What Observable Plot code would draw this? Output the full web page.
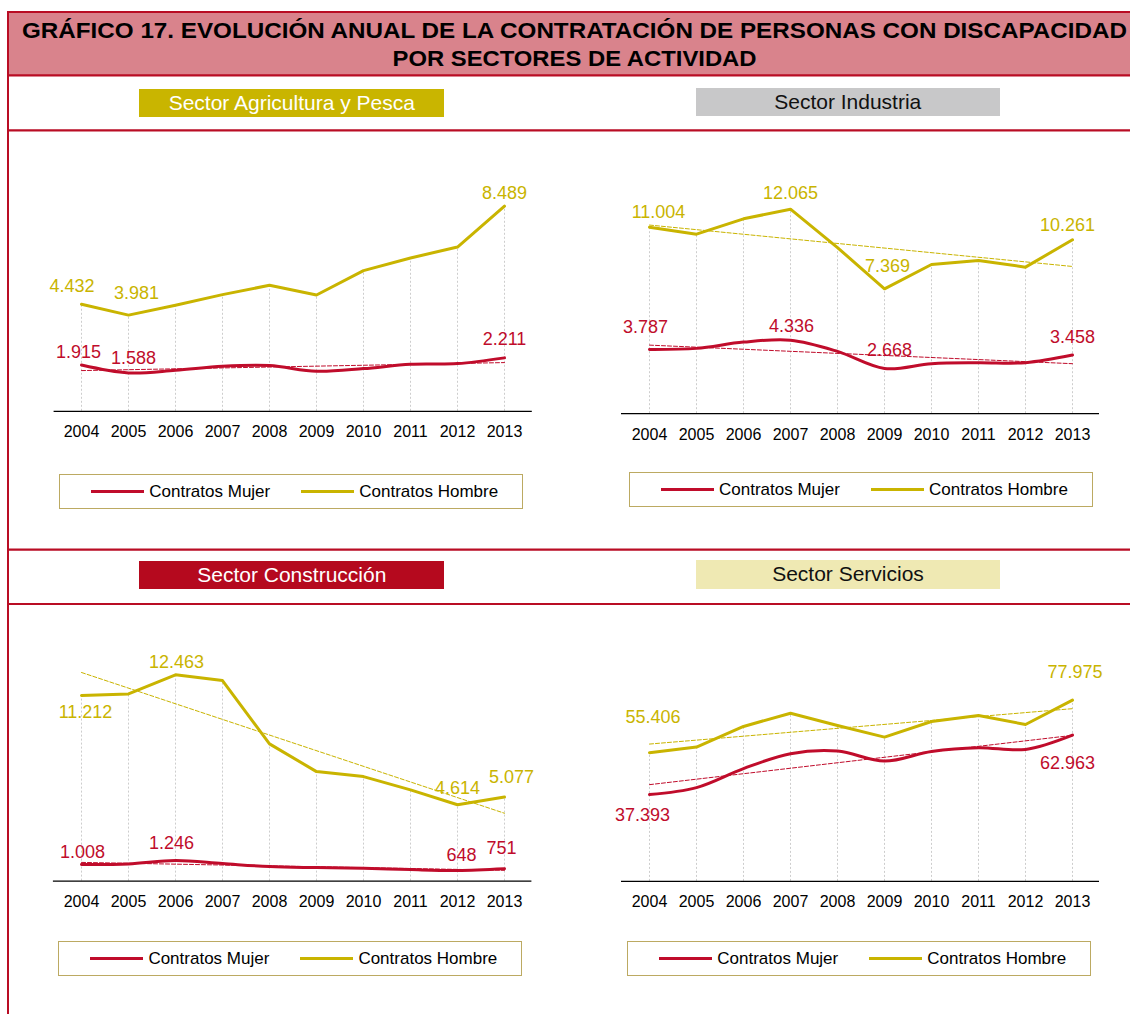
<!DOCTYPE html>
<html><head><meta charset="utf-8">
<script src="https://cdn.jsdelivr.net/npm/d3@7"></script>
<script src="https://cdn.jsdelivr.net/npm/@observablehq/plot@0.6"></script>
<style>
body{margin:0;background:#fff;font-family:"Liberation Sans",Arial,sans-serif;}
#page{position:relative;width:1130px;height:1014px;overflow:hidden;background:#fff;}
.abs{position:absolute;box-sizing:border-box;}
</style></head><body><div id="page"></div>
<script>
// ---------------- DATA ----------------
const years = [2004,2005,2006,2007,2008,2009,2010,2011,2012,2013];
const agriMujer  = [1915,1588,1697,1862,1891,1656,1767,1945,1974,2211];
const agriHombre = [4432,3981,4387,4830,5215,4814,5823,6346,6800,8489];
const indMujer   = [3787,3854,4225,4336,3677,2668,2952,3011,3011,3458];
const indHombre  = [11004,10590,11497,12065,9800,7369,8803,9040,8646,10261];
const conMujer   = [1008,1040,1246,1060,876,816,775,695,648,751];
const conHombre  = [11212,11311,12463,12115,8290,6616,6314,5511,4614,5077];
const serMujer   = [37393,40369,48520,54955,56070,51780,55942,57529,56800,62963];
const serHombre  = [55406,57786,66667,72372,67096,62076,68812,71386,67525,77975];
const sectorTitles = ["Sector Agricultura y Pesca","Sector Industria","Sector Construcción","Sector Servicios"];
const seriesNames = ["Contratos Mujer","Contratos Hombre"];
const titleLines = ["GRÁFICO 17. EVOLUCIÓN ANUAL DE LA CONTRATACIÓN DE PERSONAS CON DISCAPACIDAD","POR SECTORES DE ACTIVIDAD"];

// ---------------- STYLE / LAYOUT ----------------
const RED = "#c00c2b", YELLOW = "#c9b400", BORDER = "#b90d24";
const fmt = d3.formatLocale({decimal:",", thousands:".", grouping:[3], currency:["","€"]}).format(",d");
const page = document.getElementById("page");
const NS = "http://www.w3.org/2000/svg";

// frame svg (borders, title band)
const frame = document.createElementNS(NS,"svg");
frame.setAttribute("width",1130); frame.setAttribute("height",1014);
frame.setAttribute("class","abs"); frame.style.left="0px"; frame.style.top="0px";
function el(tag, attrs, parent){ const e=document.createElementNS(NS,tag); for(const k in attrs) e.setAttribute(k,attrs[k]); (parent||frame).appendChild(e); return e;}
el("rect",{x:8,y:12,width:1130,height:63.3,fill:"#d9838c"});
[12,75.3,130.3,549.6,604].forEach(y=>el("line",{x1:8,x2:1130,y1:y,y2:y,stroke:BORDER,"stroke-width":2.2}));
el("line",{x1:8,x2:8,y1:11,y2:1014,stroke:BORDER,"stroke-width":2});
const tl = [{y:38,len:1105},{y:65.6,len:364}];
titleLines.forEach((t,i)=>{
  const tx = el("text",{x:574.5,y:tl[i].y,"text-anchor":"middle","font-weight":"bold","font-size":21.5,
    "font-family":"Liberation Sans, Arial, sans-serif",fill:"#000",textLength:tl[i].len,lengthAdjust:"spacingAndGlyphs"});
  tx.textContent = t;
});
page.appendChild(frame);

// sector header boxes
const headers = [
  {x:139.3,y:89,w:305,h:28,bg:"#c9b500",fg:"#fff"},
  {x:695.5,y:87.7,w:304.5,h:28.5,bg:"#c8c8c9",fg:"#111"},
  {x:139.3,y:560.7,w:305,h:28.5,bg:"#b5091e",fg:"#fff"},
  {x:696,y:560,w:304,h:28.7,bg:"#efe9b3",fg:"#111"}
];
headers.forEach((h,i)=>{
  const d=document.createElement("div"); d.className="abs";
  Object.assign(d.style,{left:h.x+"px",top:h.y+"px",width:h.w+"px",height:h.h+"px",background:h.bg,color:h.fg,
    fontSize:"21px",lineHeight:h.h+"px",textAlign:"center",whiteSpace:"nowrap"});
  d.textContent = sectorTitles[i]; page.appendChild(d);
});

// legends
const legends = [{x:59.3,y:474.3},{x:629,y:472.3},{x:58.4,y:940.7},{x:627.3,y:940.7}];
const legItems = [{c:RED,line:32,text:90},{c:YELLOW,line:242,text:300}];
legends.forEach(l=>{
  const b=document.createElement("div"); b.className="abs";
  Object.assign(b.style,{left:l.x+"px",top:l.y+"px",width:"463.5px",height:"35px",border:"1.3px solid #bcaa62",background:"#fff"});
  legItems.forEach((it,i)=>{
    const s=document.createElement("div"); s.className="abs";
    Object.assign(s.style,{left:(it.line-1)+"px",top:"15px",width:"52.5px",height:"3px",background:it.c});
    b.appendChild(s);
    const t=document.createElement("div"); t.className="abs";
    Object.assign(t.style,{left:(it.text-1)+"px",top:"0px",height:"33px",lineHeight:"33px",fontSize:"17px",color:"#000",whiteSpace:"nowrap"});
    t.textContent = seriesNames[i]; b.appendChild(t);
  });
  page.appendChild(b);
});

// panels
const panels = [
  {mujer:agriMujer,hombre:agriHombre,trendH:false,left:0,top:140,mL:53.6,mR:33.2,axisY:410.8,ppu:0.02416,
   labels:[["H",0,-9.5,-17.7],["H",1,8,-22],["H",9,0,-13.3],["M",0,-3,-12.3],["M",1,5,-14.3],["M",9,0,-19]]},
  {mujer:indMujer,hombre:indHombre,trendH:true,left:565,top:140,mL:56,mR:31,axisY:413.2,ppu:0.01695,
   labels:[["H",0,9,-15],["H",3,0,-16],["H",5,3,-23],["H",9,-5,-15],["M",0,-4,-22],["M",3,1,-14],["M",5,5,-18.5],["M",9,0,-18]]},
  {mujer:conMujer,hombre:conHombre,trendH:true,left:0,top:610,mL:52.9,mR:33.6,axisY:880.6,ppu:0.01655,
   labels:[["H",0,4,17],["H",2,1,-13],["H",8,0,-17],["H",9,7,-20],["M",0,1,-12],["M",2,-4,-17],["M",8,4,-15],["M",9,-3,-20]]},
  {mujer:serMujer,hombre:serHombre,trendH:true,left:565,top:610,mL:56,mR:31,axisY:880.9,ppu:0.002324,
   labels:[["H",0,3.5,-35],["H",9,2.5,-28],["M",0,-7,21],["M",9,-5,28]]}
];
const W=565, H=310, MT=20;
panels.forEach(p=>{
  const rows = years.map((year,i)=>({year, mujer:p.mujer[i], hombre:p.hombre[i]}));
  const mB = p.top + H - p.axisY;
  const yMax = (p.axisY - p.top - MT) / p.ppu;
  const marks = [
    Plot.ruleX(rows,{x:"year",y1:0,y2:"hombre",stroke:"#cdcdcd",strokeWidth:1,strokeDasharray:"2,2"}),
    Plot.ruleY([0],{stroke:"#000",strokeWidth:1.3}),
    Plot.lineY(rows,{x:"year",y:"hombre",stroke:YELLOW,strokeWidth:3}),
    Plot.lineY(rows,{x:"year",y:"mujer",stroke:RED,strokeWidth:3,curve:"catmull-rom"}),
    Plot.linearRegressionY(rows,{x:"year",y:"mujer",stroke:RED,ci:0,strokeWidth:1,strokeDasharray:"4,2"})
  ];
  if (p.trendH) marks.push(Plot.linearRegressionY(rows,{x:"year",y:"hombre",stroke:YELLOW,ci:0,strokeWidth:1,strokeDasharray:"4,2"}));
  p.labels.forEach(([s,i,dx,dy])=>{
    const v = s==="H" ? p.hombre[i] : p.mujer[i];
    marks.push(Plot.text([{year:years[i],v}],{x:"year",y:"v",text:d=>fmt(d.v),dx,dy,fill:s==="H"?YELLOW:RED,fontSize:18}));
  });
  marks.push(Plot.axisX({tickSize:0,tickPadding:14.5,tickFormat:d=>String(d),fill:"#000",fontSize:16}));
  const chart = Plot.plot({
    width:W, height:H, marginLeft:p.mL, marginRight:p.mR, marginTop:MT, marginBottom:mB,
    x:{type:"point",domain:years,padding:0.5,align:0.5,label:null},
    y:{domain:[0,yMax],axis:null},
    style:{fontFamily:"Liberation Sans, Arial, sans-serif",fontSize:"16px",background:"transparent",overflow:"visible"},
    marks
  });
  chart.classList.add("abs");
  chart.style.left=p.left+"px"; chart.style.top=p.top+"px";
  page.appendChild(chart);
});
</script></body></html>
